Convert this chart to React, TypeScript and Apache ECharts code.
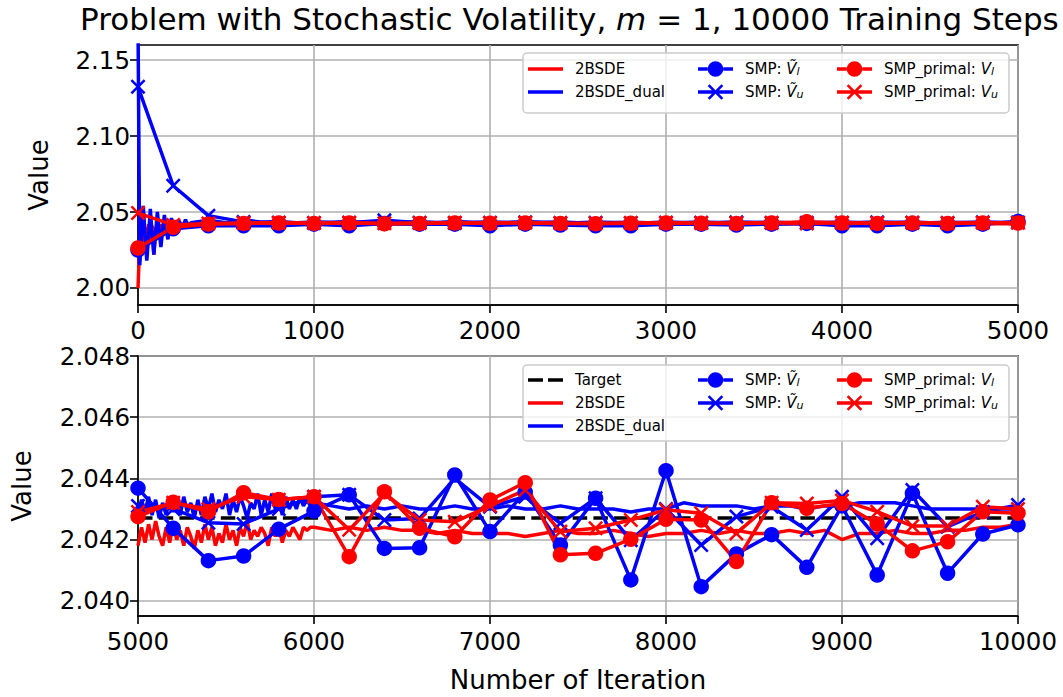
import React, { useEffect, useRef } from "react";
import * as echarts from "echarts";

const FONT = "DejaVu Sans";
const RED = "#ff0000";
const BLUE = "#0000ff";

// ---- sample positions (iterations) ----
const topMarkerIters = Array.from({ length: 26 }, (_, i) => i * 200);
const botMarkerIters = Array.from({ length: 26 }, (_, i) => 5000 + i * 200);
const topEarlyIters = Array.from({ length: 31 }, (_, i) => i * 10);
const topLateIters = Array.from({ length: 47 }, (_, i) => 400 + i * 100);
const botEarlyIters = Array.from({ length: 51 }, (_, i) => 5000 + i * 20);
const botLateIters = Array.from({ length: 40 }, (_, i) => 6100 + i * 100);

// ---- tick values ----
const xTickInterval = 1000;
const topYTicks = [2.0, 2.05, 2.1, 2.15];
const botYTicks = [2.04, 2.042, 2.044, 2.046, 2.048];
const targetValue = 2.0427;

// ---- top panel: 2BSDE (red) ----
const top2bsdeEarly = [2.0, 2.03, 2.044, 2.03, 2.04, 2.028, 2.042, 2.032, 2.041, 2.022, 2.04, 2.035, 2.042, 2.037, 2.042, 2.039, 2.043, 2.04, 2.042, 2.041, 2.043, 2.041, 2.042, 2.041, 2.043, 2.041, 2.042, 2.041, 2.043, 2.041, 2.042];
const top2bsdeLate = [2.0418, 2.0425, 2.042, 2.0426, 2.0421, 2.0424, 2.042, 2.0425, 2.0421, 2.0424, 2.0419, 2.0423, 2.0421, 2.0425, 2.042, 2.0423, 2.0421, 2.0424, 2.042, 2.0423, 2.0421, 2.0425, 2.042, 2.0423, 2.0421, 2.0424, 2.042, 2.0423, 2.0421, 2.0424, 2.042, 2.0422, 2.0421, 2.0424, 2.042, 2.0423, 2.0421, 2.0424, 2.042, 2.0423, 2.0421, 2.0424, 2.042, 2.0423, 2.0421, 2.0424, 2.0419];
// ---- top panel: 2BSDE_dual (blue) ----
const topDualEarly = [2.175, 2.015, 2.035, 2.054, 2.035, 2.018, 2.034, 2.052, 2.036, 2.022, 2.036, 2.05, 2.038, 2.027, 2.038, 2.048, 2.039, 2.032, 2.04, 2.046, 2.041, 2.036, 2.041, 2.045, 2.042, 2.039, 2.042, 2.045, 2.042, 2.04, 2.043];
const topDualLate = [2.0445, 2.043, 2.045, 2.0432, 2.0438, 2.043, 2.0435, 2.0432, 2.0438, 2.043, 2.0442, 2.0433, 2.0436, 2.0431, 2.0437, 2.0432, 2.0434, 2.0431, 2.0436, 2.0432, 2.0435, 2.043, 2.0434, 2.0431, 2.0433, 2.043, 2.0435, 2.0431, 2.0434, 2.043, 2.0433, 2.0431, 2.0434, 2.043, 2.0432, 2.0431, 2.0434, 2.043, 2.0433, 2.0431, 2.0434, 2.043, 2.0432, 2.0431, 2.0433, 2.043, 2.0432];
// ---- top panel: markers ----
const topSmpL = [2.025, 2.039, 2.041, 2.041, 2.041, 2.042, 2.041, 2.0425, 2.042, 2.042, 2.041, 2.042, 2.0415, 2.041, 2.041, 2.042, 2.042, 2.0415, 2.042, 2.0425, 2.041, 2.041, 2.042, 2.041, 2.042, 2.0437];
const topSmpU = [2.1324, 2.0673, 2.0476, 2.0435, 2.043, 2.0428, 2.043, 2.0445, 2.043, 2.0428, 2.043, 2.0432, 2.0428, 2.043, 2.0428, 2.043, 2.043, 2.0432, 2.0428, 2.043, 2.043, 2.0432, 2.043, 2.0428, 2.0432, 2.0431];
const topPrimL = [2.0263, 2.04, 2.042, 2.0425, 2.0428, 2.0425, 2.0428, 2.0422, 2.0425, 2.0428, 2.0426, 2.0428, 2.0425, 2.0423, 2.0426, 2.0428, 2.0426, 2.0424, 2.0428, 2.0436, 2.0428, 2.0425, 2.0427, 2.0424, 2.0428, 2.04275];
const topPrimU = [2.0493, 2.0415, 2.0425, 2.0428, 2.043, 2.0428, 2.043, 2.0426, 2.0428, 2.043, 2.0428, 2.043, 2.0427, 2.0426, 2.0428, 2.043, 2.0428, 2.0427, 2.043, 2.0425, 2.043, 2.0428, 2.043, 2.0427, 2.043, 2.0429];

// ---- bottom panel: 2BSDE (red) ----
const bot2bsdeEarly = [2.0418, 2.0424, 2.0419, 2.0425, 2.042, 2.0426, 2.0421, 2.0418, 2.0424, 2.0419, 2.0425, 2.042, 2.0423, 2.0418, 2.0424, 2.0421, 2.0417, 2.0423, 2.0419, 2.0425, 2.042, 2.0424, 2.0418, 2.0422, 2.0419, 2.0425, 2.042, 2.0423, 2.0418, 2.0424, 2.0421, 2.0426, 2.042, 2.0423, 2.0421, 2.0424, 2.0422, 2.0418, 2.0424, 2.0421, 2.0424, 2.0419, 2.0423, 2.0421, 2.0424, 2.0422, 2.042, 2.0424, 2.0423, 2.0424, 2.0424];
const bot2bsdeLate = [2.0423, 2.0424, 2.0423, 2.0424, 2.0423, 2.0423, 2.0422, 2.0423, 2.0422, 2.0422, 2.0422, 2.0421, 2.0422, 2.0423, 2.0422, 2.0422, 2.0423, 2.0422, 2.0421, 2.0422, 2.0422, 2.0423, 2.0422, 2.0423, 2.0422, 2.0422, 2.0423, 2.0422, 2.0423, 2.042, 2.0422, 2.0422, 2.0423, 2.0422, 2.0422, 2.0423, 2.0423, 2.0424, 2.0424, 2.0425];
// ---- bottom panel: 2BSDE_dual (blue) ----
const botDualEarly = [2.0428, 2.0433, 2.0429, 2.0434, 2.0428, 2.0433, 2.0427, 2.0432, 2.0428, 2.0434, 2.0429, 2.0433, 2.0428, 2.0434, 2.0429, 2.0432, 2.0427, 2.0433, 2.0428, 2.0434, 2.043, 2.0435, 2.0429, 2.0433, 2.043, 2.0435, 2.0428, 2.0433, 2.0429, 2.0434, 2.0431, 2.0427, 2.0432, 2.043, 2.0435, 2.0428, 2.0433, 2.0429, 2.0435, 2.043, 2.0433, 2.0428, 2.0434, 2.043, 2.0433, 2.043, 2.0434, 2.0431, 2.0433, 2.0431, 2.0432];
const botDualLate = [2.0431, 2.043, 2.0431, 2.043, 2.0431, 2.043, 2.043, 2.0431, 2.043, 2.043, 2.0431, 2.043, 2.043, 2.0431, 2.043, 2.043, 2.043, 2.0429, 2.043, 2.043, 2.0432, 2.0431, 2.0431, 2.0431, 2.043, 2.0431, 2.0431, 2.043, 2.0431, 2.0431, 2.0432, 2.0432, 2.0432, 2.0431, 2.043, 2.043, 2.043, 2.043, 2.043, 2.043];
// ---- bottom panel: markers ----
const botSmpL = [2.04368, 2.04237, 2.04131, 2.04146, 2.04234, 2.04293, 2.04346, 2.04171, 2.04173, 2.04411, 2.04226, 2.04355, 2.04182, 2.04335, 2.04068, 2.04425, 2.04046, 2.04153, 2.04216, 2.04109, 2.0431, 2.04084, 2.04351, 2.0409, 2.04218, 2.04248];
const botSmpU = [2.0431, 2.043, 2.04255, 2.04251, 2.043, 2.0434, 2.04346, 2.04264, 2.04269, 2.044, 2.04307, 2.0434, 2.04253, 2.04335, 2.04198, 2.043, 2.04182, 2.04275, 2.04307, 2.04231, 2.0434, 2.04204, 2.04362, 2.04242, 2.0429, 2.04313];
const botPrimL = [2.04275, 2.04322, 2.04291, 2.04353, 2.04331, 2.0434, 2.04144, 2.04356, 2.04237, 2.04209, 2.04329, 2.04386, 2.0415, 2.04155, 2.04201, 2.04266, 2.04264, 2.04128, 2.0432, 2.04302, 2.04318, 2.04251, 2.04163, 2.04193, 2.04291, 2.04286];
const botPrimU = [2.0429, 2.0432, 2.043, 2.0434, 2.0433, 2.0434, 2.04232, 2.0435, 2.04264, 2.04258, 2.0431, 2.04362, 2.04226, 2.04237, 2.04264, 2.04297, 2.04286, 2.0422, 2.0432, 2.04318, 2.04328, 2.04291, 2.04244, 2.04244, 2.04307, 2.043];

// ---- names ----
const N_TARGET = "Target";
const N_2BSDE = "2BSDE";
const N_DUAL = "2BSDE_dual";
const N_SL = "SMP: Ṽl";
const N_SU = "SMP: Ṽu";
const N_PL = "SMP_primal: Vl";
const N_PU = "SMP_primal: Vu";

const legendRich: Record<string, string> = {
  [N_TARGET]: "Target",
  [N_2BSDE]: "2BSDE",
  [N_DUAL]: "2BSDE_dual",
  [N_SL]: "SMP: {v|Ṽ}{s|l}",
  [N_SU]: "SMP: {v|Ṽ}{s|u}",
  [N_PL]: "SMP_primal: {v|V}{s|l}",
  [N_PU]: "SMP_primal: {v|V}{s|u}",
};

// ---- symbols / icons ----
const X_SYMBOL = "path://M0,1.2L1.2,0L5,3.8L8.8,0L10,1.2L6.2,5L10,8.8L8.8,10L5,6.2L1.2,10L0,8.8L3.8,5Z";
const LINE_ICON = "path://M0,0L35,0L35,3.6L0,3.6Z";
const DASH_ICON = "path://M0,0L15,0L15,3.6L0,3.6Z M20,0L35,0L35,3.6L20,3.6Z";
const CIRCLE_ICON =
  "path://M0,6.2L9.7,6.2L9.7,9.8L0,9.8Z M25.3,6.2L35,6.2L35,9.8L25.3,9.8Z M9.7,8A7.8,7.8 0 1 1 25.3,8A7.8,7.8 0 1 1 9.7,8Z";
const CROSS_ICON =
  "path://M0,6.2L35,6.2L35,9.8L0,9.8Z M9.7,2.07L11.57,0.2L17.5,6.13L23.43,0.2L25.3,2.07L19.37,8L25.3,13.93L23.43,15.8L17.5,9.87L11.57,15.8L9.7,13.93L15.63,8Z";

const zip = (xs: number[], ys: number[]) => ys.map((y, i) => [xs[i], y]);

function mkSeries(
  name: string,
  gi: number,
  data: number[][],
  color: string,
  symbol: string | null,
  extra: any = {}
) {
  return {
    type: "line",
    name,
    xAxisIndex: gi,
    yAxisIndex: gi,
    data,
    clip: true,
    symbol: symbol || "none",
    showSymbol: !!symbol,
    showAllSymbol: true,
    symbolSize: symbol === "circle" ? 15.5 : 15,
    itemStyle: { color, borderWidth: 0 },
    lineStyle: { color, width: 3.5, ...(extra.lineStyle || {}) },
    emphasis: { disabled: true },
    silent: true,
    animation: false,
  };
}

function axisCommon(margin: number) {
  return {
    axisLine: { show: true, onZero: false, lineStyle: { color: "#000", width: 1.6 } },
    axisTick: { show: true, inside: false, length: 8, lineStyle: { color: "#000", width: 1.6 } },
    splitLine: { show: true, lineStyle: { color: "#b0b0b0", width: 1.6 } },
    axisLabel: { color: "#000", fontFamily: FONT, fontSize: 24.5, margin, showMinLabel: true, showMaxLabel: true },
  };
}

function legend(left: number, top: number, items: { name: string; icon: string }[]) {
  return {
    orient: "vertical",
    left,
    top,
    padding: 0,
    itemWidth: 35,
    itemHeight: 16,
    itemGap: 7,
    selectedMode: false,
    data: items,
    formatter: (n: string) => legendRich[n] || n,
    textStyle: {
      fontFamily: FONT,
      fontSize: 15,
      color: "#000",
      lineHeight: 16,
      padding: [0, 0, 0, 7],
      rich: {
        v: { fontFamily: FONT, fontSize: 15, fontStyle: "italic", color: "#000", lineHeight: 16 },
        s: { fontFamily: FONT, fontSize: 11, fontStyle: "italic", color: "#000", lineHeight: 8, verticalAlign: "bottom" },
      },
    },
  };
}

function buildOption() {
  const fmtX = (v: number) => String(v);
  const series: any[] = [];
  // top panel
  series.push(mkSeries(N_2BSDE, 0, [...zip(topEarlyIters, top2bsdeEarly), ...zip(topLateIters, top2bsdeLate)], RED, null));
  series.push(mkSeries(N_DUAL, 0, [...zip(topEarlyIters, topDualEarly), ...zip(topLateIters, topDualLate)], BLUE, null));
  series.push(mkSeries(N_SL, 0, zip(topMarkerIters, topSmpL), BLUE, "circle"));
  series.push(mkSeries(N_SU, 0, zip(topMarkerIters, topSmpU), BLUE, X_SYMBOL));
  series.push(mkSeries(N_PL, 0, zip(topMarkerIters, topPrimL), RED, "circle"));
  series.push(mkSeries(N_PU, 0, zip(topMarkerIters, topPrimU), RED, X_SYMBOL));
  // bottom panel
  series.push(
    mkSeries(N_TARGET, 1, [[5000, targetValue], [10000, targetValue]], "#000", null, {
      lineStyle: { type: [14.5, 6.2] },
    })
  );
  series.push(mkSeries(N_2BSDE, 1, [...zip(botEarlyIters, bot2bsdeEarly), ...zip(botLateIters, bot2bsdeLate)], RED, null));
  series.push(mkSeries(N_DUAL, 1, [...zip(botEarlyIters, botDualEarly), ...zip(botLateIters, botDualLate)], BLUE, null));
  series.push(mkSeries(N_SL, 1, zip(botMarkerIters, botSmpL), BLUE, "circle"));
  series.push(mkSeries(N_SU, 1, zip(botMarkerIters, botSmpU), BLUE, X_SYMBOL));
  series.push(mkSeries(N_PL, 1, zip(botMarkerIters, botPrimL), RED, "circle"));
  series.push(mkSeries(N_PU, 1, zip(botMarkerIters, botPrimU), RED, X_SYMBOL));

  const cx = axisCommon(13);
  const cy = axisCommon(8);
  return {
    animation: false,
    backgroundColor: "#fff",
    textStyle: { fontFamily: FONT },
    title: {
      text: "Problem with Stochastic Volatility, {i|m} = 1, 10000 Training Steps",
      left: 80,
      top: 3,
      padding: 0,
      textStyle: {
        fontFamily: FONT,
        fontSize: 31,
        fontWeight: "normal",
        color: "#000",
        rich: {
          i: { fontFamily: FONT, fontSize: 31, fontStyle: "italic", color: "#000" },
        },
      },
    },
    grid: [
      { left: 138, top: 45, width: 880, height: 260, show: true, borderColor: "#000", borderWidth: 1.6, backgroundColor: "transparent" },
      { left: 138, top: 356, width: 880, height: 260, show: true, borderColor: "#000", borderWidth: 1.6, backgroundColor: "transparent" },
    ],
    xAxis: [
      {
        type: "value",
        gridIndex: 0,
        min: 0,
        max: 5000,
        interval: xTickInterval,
        ...cx,
        axisLabel: { ...cx.axisLabel, formatter: fmtX },
      },
      {
        type: "value",
        gridIndex: 1,
        min: 5000,
        max: 10000,
        interval: xTickInterval,
        ...cx,
        axisLabel: { ...cx.axisLabel, formatter: fmtX },
        name: "Number of Iteration",
        nameLocation: "middle",
        nameGap: 51,
        nameTextStyle: { fontFamily: FONT, fontSize: 26, color: "#000" },
      },
    ],
    yAxis: [
      {
        type: "value",
        gridIndex: 0,
        min: 1.9888,
        max: 2.1599,
        ...cy,
        axisTick: { ...cy.axisTick, customValues: topYTicks },
        axisLabel: { ...cy.axisLabel, customValues: topYTicks, formatter: (v: number) => v.toFixed(2) },
        name: "Value",
        nameLocation: "middle",
        nameGap: 86,
        nameTextStyle: { fontFamily: FONT, fontSize: 26, color: "#000" },
      },
      {
        type: "value",
        gridIndex: 1,
        min: 2.0395,
        max: 2.048,
        ...cy,
        axisTick: { ...cy.axisTick, customValues: botYTicks },
        axisLabel: { ...cy.axisLabel, customValues: botYTicks, formatter: (v: number) => v.toFixed(3) },
        name: "Value",
        nameLocation: "middle",
        nameGap: 103,
        nameTextStyle: { fontFamily: FONT, fontSize: 26, color: "#000" },
      },
    ],
    graphic: [
      {
        type: "rect",
        z: 3,
        shape: { x: 523, y: 53, width: 486, height: 60, r: 4 },
        style: { fill: "rgba(255,255,255,0.8)", stroke: "#cccccc", lineWidth: 1.5 },
        silent: true,
      },
      {
        type: "rect",
        z: 3,
        shape: { x: 523, y: 365, width: 486, height: 76, r: 4 },
        style: { fill: "rgba(255,255,255,0.8)", stroke: "#cccccc", lineWidth: 1.5 },
        silent: true,
      },
    ],
    legend: [
      legend(528, 61, [
        { name: N_2BSDE, icon: LINE_ICON },
        { name: N_DUAL, icon: LINE_ICON },
      ]),
      legend(698, 61, [
        { name: N_SL, icon: CIRCLE_ICON },
        { name: N_SU, icon: CROSS_ICON },
      ]),
      legend(837, 61, [
        { name: N_PL, icon: CIRCLE_ICON },
        { name: N_PU, icon: CROSS_ICON },
      ]),
      legend(528, 372, [
        { name: N_TARGET, icon: DASH_ICON },
        { name: N_2BSDE, icon: LINE_ICON },
        { name: N_DUAL, icon: LINE_ICON },
      ]),
      legend(698, 372, [
        { name: N_SL, icon: CIRCLE_ICON },
        { name: N_SU, icon: CROSS_ICON },
      ]),
      legend(837, 372, [
        { name: N_PL, icon: CIRCLE_ICON },
        { name: N_PU, icon: CROSS_ICON },
      ]),
    ],
    series,
  };
}

export default function App() {
  const ref = useRef<HTMLDivElement>(null);
  useEffect(() => {
    const chart = echarts.init(ref.current!, null, { renderer: "svg" });
    chart.setOption(buildOption() as any);
    return () => chart.dispose();
  }, []);
  return (
    <div
      ref={ref}
      style={{ position: "fixed", left: 0, top: 0, width: 1063, height: 697, background: "#fff" }}
    />
  );
}
